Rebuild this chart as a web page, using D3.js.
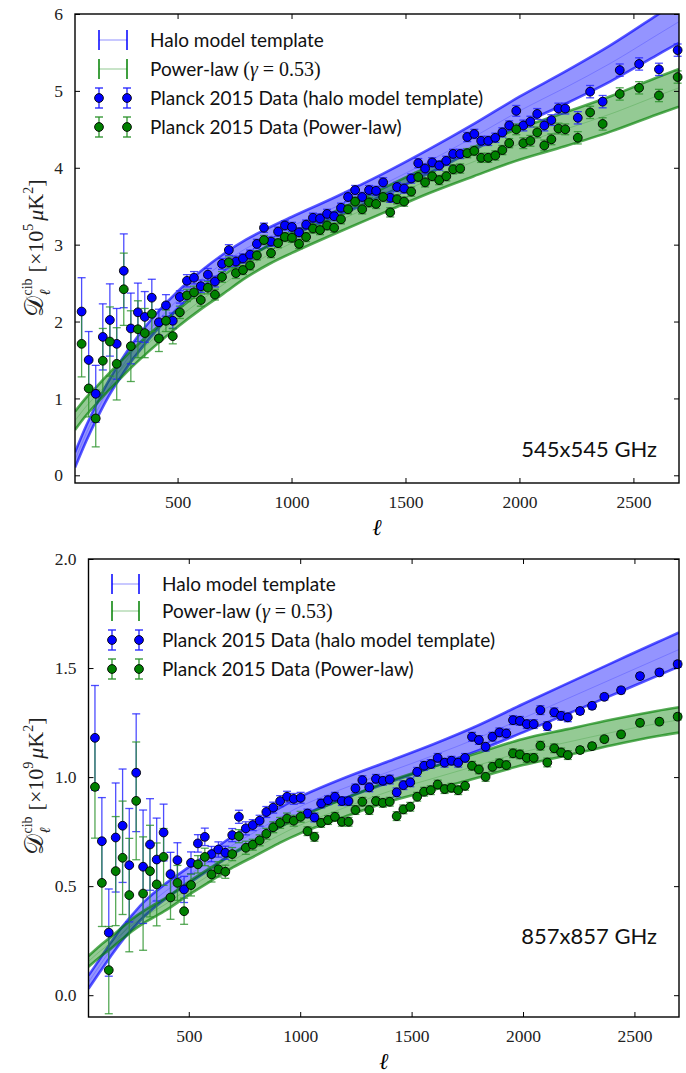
<!DOCTYPE html>
<html>
<head>
<meta charset="utf-8">
<script src="https://cdn.jsdelivr.net/npm/d3@7"></script>
<style>
  body { margin: 0; background: #fff; }
  svg { display: block; }
</style>
</head>
<body>
<svg id="chart" width="686" height="1073"></svg>
<script>
// Multipole bin centres shared by both spectra
const multipoles = [
  79,110,141,172,203,233,264,295,326,356,
  387,418,449,479,510,541,572,602,633,664,
  695,725,756,787,818,848,879,910,941,971,
  1002,1033,1064,1094,1125,1156,1187,1217,1248,1279,
  1310,1340,1371,1402,1433,1463,1494,1525,1556,1586,
  1617,1648,1679,1709,1740,1771,1802,1832,1863,1894,
  1925,1955,1986,2017,2048,2078,2109,2140,2171,2201,
  2256,2310,2365,2440,2525,2612,2694
];

// 545x545 GHz, units of 1e5 muK^2
const halo545 = [
  2.13,1.50,1.06,1.80,2.02,1.71,2.66,1.91,2.12,2.06,
  2.31,1.99,2.21,2.01,2.32,2.53,2.57,2.46,2.61,2.52,
  2.75,2.93,2.78,2.82,2.87,3.01,3.22,3.04,3.17,3.25,
  3.23,3.16,3.26,3.35,3.34,3.40,3.37,3.48,3.62,3.71,
  3.62,3.71,3.70,3.81,3.61,3.75,3.73,3.86,4.06,3.99,
  4.07,4.03,4.09,4.18,4.18,4.40,4.44,4.35,4.35,4.39,
  4.46,4.55,4.74,4.55,4.60,4.70,4.55,4.62,4.77,4.77,
  4.65,4.99,4.86,5.27,5.35,5.28,5.53
];
const halo545Err = [
  0.44,0.37,0.37,0.43,0.47,0.46,0.48,0.46,0.38,0.33,
  0.24,0.17,0.14,0.10,0.08,0.08,0.08,0.08,0.08,0.07,
  0.07,0.07,0.07,0.06,0.06,0.06,0.06,0.06,0.06,0.06,
  0.06,0.06,0.06,0.06,0.06,0.06,0.06,0.06,0.06,0.06,
  0.06,0.06,0.06,0.06,0.06,0.06,0.06,0.06,0.06,0.06,
  0.06,0.06,0.06,0.06,0.06,0.06,0.06,0.06,0.06,0.06,
  0.06,0.06,0.07,0.07,0.07,0.07,0.07,0.07,0.07,0.07,
  0.08,0.08,0.08,0.08,0.08,0.08,0.08
];
const pow545 = [
  1.71,1.13,0.74,1.49,1.74,1.45,2.42,1.68,1.90,1.85,
  2.10,1.78,2.01,1.81,2.12,2.34,2.38,2.28,2.44,2.35,
  2.58,2.77,2.63,2.67,2.73,2.86,3.06,2.89,3.02,3.10,
  3.09,3.01,3.10,3.21,3.19,3.25,3.22,3.33,3.46,3.56,
  3.46,3.55,3.53,3.62,3.42,3.59,3.56,3.69,3.88,3.81,
  3.89,3.84,3.89,3.98,3.99,4.19,4.22,4.13,4.13,4.16,
  4.23,4.32,4.50,4.32,4.35,4.46,4.29,4.37,4.51,4.50,
  4.39,4.72,4.57,4.96,5.04,4.94,5.18
];
const pow545Err = [
  0.43,0.37,0.37,0.42,0.45,0.47,0.47,0.46,0.37,0.32,
  0.23,0.17,0.14,0.10,0.08,0.08,0.08,0.08,0.08,0.07,
  0.07,0.07,0.07,0.06,0.06,0.06,0.06,0.06,0.06,0.06,
  0.06,0.06,0.06,0.06,0.06,0.06,0.06,0.06,0.06,0.06,
  0.06,0.06,0.06,0.06,0.06,0.06,0.06,0.06,0.06,0.06,
  0.06,0.06,0.06,0.06,0.06,0.06,0.06,0.06,0.06,0.06,
  0.06,0.06,0.07,0.07,0.07,0.07,0.07,0.07,0.07,0.07,
  0.08,0.08,0.08,0.08,0.08,0.08,0.08
];

// 857x857 GHz, units of 1e9 muK^2
const halo857 = [
  1.18,0.706,0.287,0.723,0.777,0.596,1.02,0.589,0.691,0.622,
  0.746,0.555,0.619,0.485,0.607,0.696,0.726,0.647,0.668,0.653,
  0.734,0.818,0.765,0.78,0.80,0.84,0.86,0.89,0.91,0.90,
  0.905,0.833,0.815,0.879,0.894,0.91,0.89,0.89,0.948,0.986,
  0.953,0.992,0.983,0.989,0.93,0.963,0.976,1.024,1.052,1.06,
  1.088,1.066,1.075,1.066,1.088,1.185,1.17,1.139,1.185,1.205,
  1.20,1.261,1.258,1.243,1.243,1.307,1.234,1.297,1.281,1.274,
  1.303,1.327,1.368,1.398,1.463,1.48,1.518
];
const halo857Err = [
  0.24,0.20,0.20,0.25,0.26,0.26,0.27,0.26,0.21,0.19,
  0.13,0.10,0.08,0.06,0.05,0.04,0.04,0.035,0.035,0.03,
  0.03,0.03,0.03,0.025,0.025,0.025,0.025,0.025,0.025,0.025,
  0.025,0.02,0.02,0.02,0.02,0.02,0.02,0.02,0.02,0.02,
  0.02,0.02,0.02,0.02,0.02,0.02,0.02,0.02,0.02,0.02,
  0.02,0.02,0.02,0.02,0.02,0.02,0.02,0.02,0.02,0.02,
  0.02,0.02,0.02,0.02,0.02,0.02,0.02,0.02,0.02,0.02,
  0.015,0.015,0.015,0.015,0.015,0.015,0.015
];
const pow857 = [
  0.955,0.515,0.115,0.569,0.63,0.459,0.891,0.466,0.569,0.508,
  0.634,0.448,0.515,0.385,0.505,0.60,0.634,0.554,0.577,0.566,
  0.647,0.729,0.676,0.69,0.71,0.74,0.77,0.79,0.81,0.80,
  0.818,0.752,0.726,0.79,0.803,0.818,0.795,0.795,0.849,0.887,
  0.849,0.89,0.882,0.887,0.821,0.852,0.864,0.91,0.933,0.94,
  0.966,0.945,0.951,0.94,0.96,1.052,1.035,1.001,1.047,1.063,
  1.055,1.109,1.104,1.088,1.088,1.144,1.067,1.132,1.113,1.101,
  1.124,1.142,1.174,1.196,1.249,1.254,1.277
];
const pow857Err = [
  0.235,0.20,0.20,0.25,0.26,0.26,0.27,0.26,0.21,0.19,
  0.13,0.10,0.08,0.06,0.05,0.04,0.04,0.035,0.035,0.03,
  0.03,0.03,0.03,0.025,0.025,0.025,0.025,0.025,0.025,0.025,
  0.025,0.02,0.02,0.02,0.02,0.02,0.02,0.02,0.02,0.02,
  0.02,0.02,0.02,0.02,0.02,0.02,0.02,0.02,0.02,0.02,
  0.02,0.02,0.02,0.02,0.02,0.02,0.02,0.02,0.02,0.02,
  0.02,0.02,0.02,0.02,0.02,0.02,0.02,0.02,0.02,0.02,
  0.015,0.015,0.015,0.015,0.015,0.015,0.015
];

// Model envelopes (lower / upper edge) sampled in multipole
const bandEll = [50,100,150,200,250,300,400,500,600,700,800,900,1000,1200,1400,1600,1800,2000,2200,2400,2600,2700];
const haloLo545 = [0.10,0.45,0.76,1.04,1.275,1.495,1.86,2.17,2.43,2.645,2.835,2.98,3.12,3.37,3.64,3.925,4.23,4.555,4.83,5.125,5.46,5.625];
const haloHi545 = [0.30,0.65,0.96,1.24,1.485,1.705,2.08,2.39,2.65,2.875,3.065,3.22,3.36,3.63,3.92,4.235,4.57,4.925,5.25,5.595,5.98,6.175];
const powLo545  = [0.59,0.785,0.95,1.11,1.26,1.41,1.68,1.93,2.155,2.36,2.57,2.745,2.89,3.155,3.41,3.665,3.89,4.105,4.28,4.47,4.69,4.795];
const powHi545  = [0.83,1.015,1.17,1.33,1.48,1.63,1.90,2.15,2.385,2.60,2.81,2.995,3.15,3.445,3.73,4.015,4.27,4.515,4.72,4.93,5.17,5.285];

const haloLo857 = [0.03,0.105,0.179,0.248,0.307,0.361,0.445,0.513,0.581,0.649,0.707,0.766,0.82,0.903,0.976,1.048,1.122,1.205,1.29,1.376,1.463,1.507];
const haloHi857 = [0.09,0.165,0.241,0.312,0.373,0.429,0.515,0.587,0.659,0.731,0.793,0.854,0.91,0.997,1.074,1.152,1.238,1.335,1.43,1.524,1.617,1.663];
const powLo857  = [0.13,0.174,0.213,0.256,0.297,0.332,0.391,0.46,0.524,0.587,0.64,0.694,0.742,0.818,0.888,0.942,0.998,1.055,1.10,1.146,1.187,1.204];
const powHi857  = [0.18,0.226,0.267,0.310,0.353,0.388,0.449,0.52,0.586,0.653,0.71,0.766,0.818,0.902,0.982,1.048,1.112,1.175,1.22,1.264,1.303,1.32];

const xTicks = [500,1000,1500,2000,2500];
const yTicks545 = [0,1,2,3,4,5,6];
const yTicks857 = [0.0,0.5,1.0,1.5,2.0];
const legendLabels = ["Halo model template", "Power-law ", "Planck 2015 Data (halo model template)", "Planck 2015 Data (Power-law)"];

const BLUE = "#0000ff", GREEN = "#008000";
const BAR_BLUE = "#2020ff", BAR_GREEN = "#2a922a";
const SANS = "Lato, 'Open Sans', sans-serif";
const SERIF = "'Liberation Serif', 'DejaVu Serif', serif";

const svg = d3.select("#chart");

function drawPanel(o) {
  const x = d3.scaleLinear().domain([50, 2700]).range([o.left, o.right]);
  const y = d3.scaleLinear().domain(o.yDomain).range([o.bottom, o.top]);
  const g = svg.append("g");

  svg.append("clipPath").attr("id", "clip-" + o.id)
    .append("rect").attr("x", o.left).attr("y", o.top)
    .attr("width", o.right - o.left).attr("height", o.bottom - o.top);
  const plot = g.append("g").attr("clip-path", `url(#clip-${o.id})`);

  // model envelopes: translucent fill, stronger edges, faint median
  o.bands.forEach(b => {
    const rows = bandEll.map((l, i) => ({ l, lo: b.lo[i], hi: b.hi[i] }));
    const curve = d3.curveCatmullRom.alpha(0.5);
    const area = d3.area().x(d => x(d.l)).y0(d => y(d.lo)).y1(d => y(d.hi)).curve(curve);
    const edge = key => d3.line().x(d => x(d.l)).y(d => y(key === "mid" ? (d.lo + d.hi) / 2 : d[key])).curve(curve);
    plot.append("path").attr("d", area(rows)).attr("fill", b.color).attr("fill-opacity", 0.42);
    ["lo", "hi"].forEach(k => plot.append("path").attr("d", edge(k)(rows))
      .attr("fill", "none").attr("stroke", b.color).attr("stroke-width", 2.6).attr("stroke-opacity", 0.65));
    plot.append("path").attr("d", edge("mid")(rows)).attr("fill", "none")
      .attr("stroke", b.color).attr("stroke-width", 1).attr("stroke-opacity", 0.2);
  });

  // data with error bars
  o.series.forEach(s => {
    const pts = multipoles.map((l, i) => ({ l, v: s.values[i], e: s.errors[i] }));
    const eg = g.append("g").attr("stroke", s.bar).attr("stroke-width", 1.3).attr("stroke-opacity", 0.8);
    eg.selectAll("line.v").data(pts).join("line").attr("class", "v")
      .attr("x1", d => x(d.l)).attr("x2", d => x(d.l))
      .attr("y1", d => y(d.v - d.e)).attr("y2", d => y(d.v + d.e));
    ["lo", "hi"].forEach(k => {
      eg.selectAll("line.c" + k).data(pts).join("line").attr("class", "c" + k)
        .attr("x1", d => x(d.l) - 4).attr("x2", d => x(d.l) + 4)
        .attr("y1", d => y(k === "lo" ? d.v - d.e : d.v + d.e))
        .attr("y2", d => y(k === "lo" ? d.v - d.e : d.v + d.e));
    });
    s.pts = pts;
  });
  o.series.forEach(s => {
    g.append("g").selectAll("circle").data(s.pts).join("circle")
      .attr("cx", d => x(d.l)).attr("cy", d => y(d.v)).attr("r", 4.4)
      .attr("fill", s.color).attr("stroke", "#000").attr("stroke-width", 0.9);
  });

  // axes: inward ticks on all four sides
  const styleAxis = sel => {
    sel.select(".domain").remove();
    sel.selectAll(".tick line").attr("stroke", "#000").attr("stroke-width", 1);
    sel.selectAll("text").attr("font-family", SERIF).attr("font-size", 17.5).attr("fill", "#222");
  };
  g.append("g").attr("transform", `translate(0,${o.bottom})`)
    .call(d3.axisBottom(x).tickValues(xTicks).tickSize(-5).tickPadding(13).tickFormat(d3.format("d")))
    .call(styleAxis);
  g.append("g").attr("transform", `translate(0,${o.top})`)
    .call(d3.axisTop(x).tickValues(xTicks).tickSize(-5).tickFormat(""))
    .call(styleAxis);
  g.append("g").attr("transform", `translate(${o.left},0)`)
    .call(d3.axisLeft(y).tickValues(o.yTicks).tickSize(-5).tickPadding(12).tickFormat(d3.format(o.yFormat)))
    .call(styleAxis);
  g.append("g").attr("transform", `translate(${o.right},0)`)
    .call(d3.axisRight(y).tickValues(o.yTicks).tickSize(-5).tickFormat(""))
    .call(styleAxis);
  g.append("rect").attr("x", o.left).attr("y", o.top)
    .attr("width", o.right - o.left).attr("height", o.bottom - o.top)
    .attr("fill", "none").attr("stroke", "#000").attr("stroke-width", 1.4);

  // x label
  g.append("text").attr("x", (o.left + o.right) / 2).attr("y", o.bottom + 52)
    .attr("text-anchor", "middle").attr("font-family", "'DejaVu Serif', serif")
    .attr("font-style", "italic").attr("font-size", 23).text("ℓ");

  // y label, composed piecewise along the rotated baseline
  const yl = g.append("g").attr("transform", `translate(${o.ylabX},${o.ylabY}) rotate(-90)`);
  const parts = [];
  let cx = 0;
  const put = (txt, size, dy, family, style, advance = true) => {
    const t = yl.append("text").attr("x", cx).attr("y", dy).attr("font-size", size)
      .attr("font-family", family).attr("font-style", style || "normal").attr("fill", "#222").text(txt);
    const w = t.node().getComputedTextLength();
    parts.push(t);
    if (advance) cx += w;
    return w;
  };
  put("𝒟", 26, 0, "'DejaVu Serif', serif");
  const start = cx;
  const w1 = put("ℓ", 15, 7, "'DejaVu Serif', serif", "italic", false);
  cx = start;
  const w2 = put("cib", 14, -11, SERIF, "normal", false);
  cx = start + Math.max(w1, w2) + 6;
  put("[×10", 22, 0, SERIF);
  put(o.yExp, 14, -10, SERIF);
  cx += 3;
  put("μ", 22, 0, SERIF, "italic");
  put("K", 22, 0, SERIF);
  put("2", 14, -10, SERIF);
  put("]", 22, 0, SERIF);
  parts.forEach(t => t.attr("x", +t.attr("x") - cx / 2));

  // frequency tag
  g.append("text").attr("x", o.right - 22).attr("y", o.tagY).attr("text-anchor", "end")
    .attr("font-family", SANS).attr("font-size", 22).attr("fill", "#111").text(o.tag);

  // legend
  const L = o.legend;
  const rows = L.rows;
  const lg = g.append("g");
  [[BLUE, "#c8c8ff"], [GREEN, "#c8e4c8"]].forEach(([c, pale], i) => {
    const yy = rows[i];
    lg.append("line").attr("x1", L.m1).attr("x2", L.m2).attr("y1", yy).attr("y2", yy)
      .attr("stroke", pale).attr("stroke-width", 2);
    [L.m1, L.m2].forEach(xx => lg.append("line").attr("x1", xx).attr("x2", xx)
      .attr("y1", yy - 10).attr("y2", yy + 10).attr("stroke", c).attr("stroke-width", 1.5));
  });
  [[BLUE, BAR_BLUE], [GREEN, BAR_GREEN]].forEach(([c, bar], i) => {
    const yy = rows[i + 2];
    [L.m1, L.m2].forEach(xx => {
      lg.append("line").attr("x1", xx).attr("x2", xx).attr("y1", yy - 10).attr("y2", yy + 10)
        .attr("stroke", bar).attr("stroke-width", 1.3);
      [-10, 10].forEach(dy => lg.append("line").attr("x1", xx - 4).attr("x2", xx + 4)
        .attr("y1", yy + dy).attr("y2", yy + dy).attr("stroke", bar).attr("stroke-width", 1.3));
      lg.append("circle").attr("cx", xx).attr("cy", yy).attr("r", 4.4)
        .attr("fill", c).attr("stroke", "#000").attr("stroke-width", 0.9);
    });
  });
  legendLabels.forEach((lab, i) => {
    const t = lg.append("text").attr("x", L.tx).attr("y", rows[i] + 6.5)
      .attr("font-family", SANS).attr("font-size", 19).attr("fill", "#111");
    t.append("tspan").text(lab);
    if (i === 1) {
      t.append("tspan").attr("font-family", SERIF).attr("font-size", 20).text("(");
      t.append("tspan").attr("font-family", SERIF).attr("font-size", 20).attr("font-style", "italic").text("γ");
      t.append("tspan").attr("font-family", SERIF).attr("font-size", 20).text(" = 0.53)");
    }
  });
}

drawPanel({
  id: "545", left: 75, right: 679, top: 14, bottom: 483,
  yDomain: [-0.1, 6], yTicks: yTicks545, yFormat: "d", yExp: "5",
  ylabX: 43, ylabY: 248, tag: "545x545 GHz", tagY: 457,
  bands: [
    { lo: haloLo545, hi: haloHi545, color: BLUE },
    { lo: powLo545, hi: powHi545, color: GREEN }
  ],
  series: [
    { values: halo545, errors: halo545Err, color: BLUE, bar: BAR_BLUE },
    { values: pow545, errors: pow545Err, color: GREEN, bar: BAR_GREEN }
  ],
  legend: { rows: [40, 69, 98, 127], m1: 99, m2: 127, tx: 150 }
});

drawPanel({
  id: "857", left: 88.5, right: 679, top: 559, bottom: 1017,
  yDomain: [-0.1, 2.0], yTicks: yTicks857, yFormat: ".1f", yExp: "9",
  ylabX: 43, ylabY: 786, tag: "857x857 GHz", tagY: 944,
  bands: [
    { lo: haloLo857, hi: haloHi857, color: BLUE },
    { lo: powLo857, hi: powHi857, color: GREEN }
  ],
  series: [
    { values: halo857, errors: halo857Err, color: BLUE, bar: BAR_BLUE },
    { values: pow857, errors: pow857Err, color: GREEN, bar: BAR_GREEN }
  ],
  legend: { rows: [584, 611, 640, 669], m1: 112, m2: 139, tx: 162 }
});
</script>
</body>
</html>
